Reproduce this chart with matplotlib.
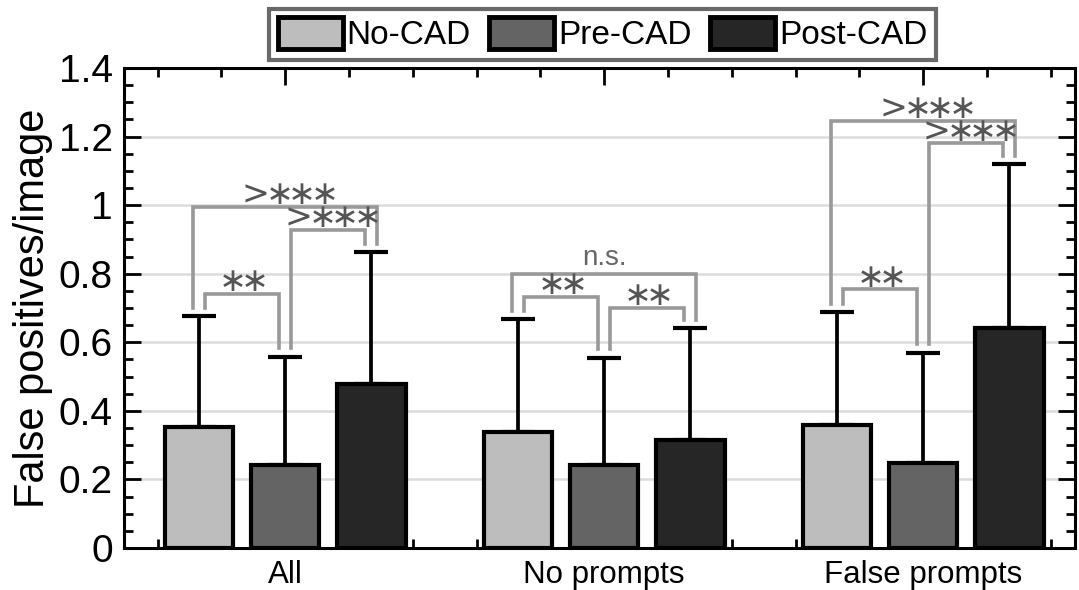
import matplotlib
matplotlib.use('Agg')
import matplotlib.pyplot as plt
import numpy as np

# values
categories = ['All', 'No prompts', 'False prompts']
series_names = ['No-CAD', 'Pre-CAD', 'Post-CAD']
no_cad = [0.352, 0.339, 0.359]
pre_cad = [0.242, 0.242, 0.247]
post_cad = [0.477, 0.315, 0.641]
no_cad_sd = [0.325, 0.329, 0.328]
pre_cad_sd = [0.316, 0.313, 0.323]
post_cad_sd = [0.387, 0.326, 0.479]

# significance brackets: group, first bar, second bar, height, label
bracket_group = [0, 0, 0, 1, 1, 1, 2, 2, 2]
bracket_from = [0, 0, 1, 0, 1, 0, 0, 1, 0]
bracket_to = [1, 2, 2, 1, 2, 2, 1, 2, 2]
bracket_y = [0.741, 0.994, 0.927, 0.731, 0.699, 0.799, 0.754, 1.180, 1.246]
bracket_text = ['**', '>***', '>***', '**', '**', 'n.s.', '**', '>***', '>***']

plt.rcParams['font.family'] = ['Liberation Sans', 'DejaVu Sans']
plt.rcParams['mathtext.fontset'] = 'dejavusans'

colors = ['#bdbdbd', '#646464', '#262626']
offsets = [-0.27, 0.0, 0.27]
width = 0.215


def star_label(lab):
    # tight, even spacing of '>' and the stars, as in the reference
    out = ''
    for ch in lab:
        if ch == '*':
            out += r'{\ast}\!'
        else:
            out += '{' + ch + r'}\!\!'
    return '$' + out + '$'


fig = plt.figure(figsize=(10.79, 5.90), dpi=100)
ax = fig.add_axes([0.115, 0.0712, 0.8813, 0.8135])

x = np.arange(1, len(categories) + 1)
means = [no_cad, pre_cad, post_cad]
sds = [no_cad_sd, pre_cad_sd, post_cad_sd]

for k in range(3):
    xs = x + offsets[k]
    ax.bar(xs, means[k], width, color=colors[k], edgecolor='black',
           linewidth=3, label=series_names[k], zorder=3)
    ax.errorbar(xs, means[k], yerr=[np.zeros(3), sds[k]], fmt='none',
                ecolor='black', elinewidth=2.7, capsize=12, capthick=3, zorder=2)

# brackets
d = 0.019
gap = 0.024
for g, i, j, yb, lab in zip(bracket_group, bracket_from, bracket_to, bracket_y, bracket_text):
    outer = (j - i) == 2
    xl = x[g] + offsets[i] + (-d if outer else d)
    xr = x[g] + offsets[j] + (d if outer else -d)
    yl = means[i][g] + sds[i][g] + gap
    yr = means[j][g] + sds[j][g] + gap
    ax.plot([xl, xl, xr, xr], [yl, yb, yb, yr], color='#999999', lw=2.6,
            solid_joinstyle='miter', zorder=4)
    xc = (xl + xr) / 2
    if lab == 'n.s.':
        ax.text(xc, yb + 0.008, lab, ha='center', va='bottom',
                fontsize=20, color='#666666', zorder=5)
    else:
        ax.text(xc, yb - 0.012, star_label(lab), ha='center', va='bottom',
                fontsize=24, color='#555555', zorder=5)

ax.set_xlim(0.495, 3.476)
ax.set_ylim(0, 1.4)
ax.set_xticks(x)
ax.set_xticklabels(categories, fontsize=22.5)
ax.set_xticks(np.concatenate([x - 0.4, x - 0.2, x + 0.2, x + 0.4]), minor=True)
ax.set_yticks(np.arange(0, 1.41, 0.2))
ax.set_yticklabels(['0', '0.2', '0.4', '0.6', '0.8', '1', '1.2', '1.4'], fontsize=28)
ax.set_yticks(np.arange(0, 1.41, 0.05), minor=True)
ax.tick_params(which='both', direction='in', top=True, right=True, width=2, color='black')
ax.tick_params(which='major', length=12)
ax.tick_params(which='minor', length=6.5)
ax.tick_params(axis='x', which='major', pad=9)
ax.tick_params(axis='y', which='major', pad=8)
ax.yaxis.grid(True, color='#dcdcdc', lw=1.8, zorder=0)
ax.set_axisbelow(True)
for s in ax.spines.values():
    s.set_linewidth(2.2)
ax.set_ylabel('False positives/image', fontsize=30, labelpad=4)

leg = ax.legend(loc='lower center', bbox_to_anchor=(0.503, 1.0), ncol=3, fontsize=24,
                frameon=True, fancybox=False, edgecolor='#444444', handlelength=1.95,
                handleheight=1.1, handletextpad=0.12, columnspacing=0.55,
                borderpad=0.25, borderaxespad=0.25)
leg.get_frame().set_linewidth(3)
for h in leg.legend_handles:
    h.set_linewidth(3.5)

fig.savefig('out.png', dpi=100)
